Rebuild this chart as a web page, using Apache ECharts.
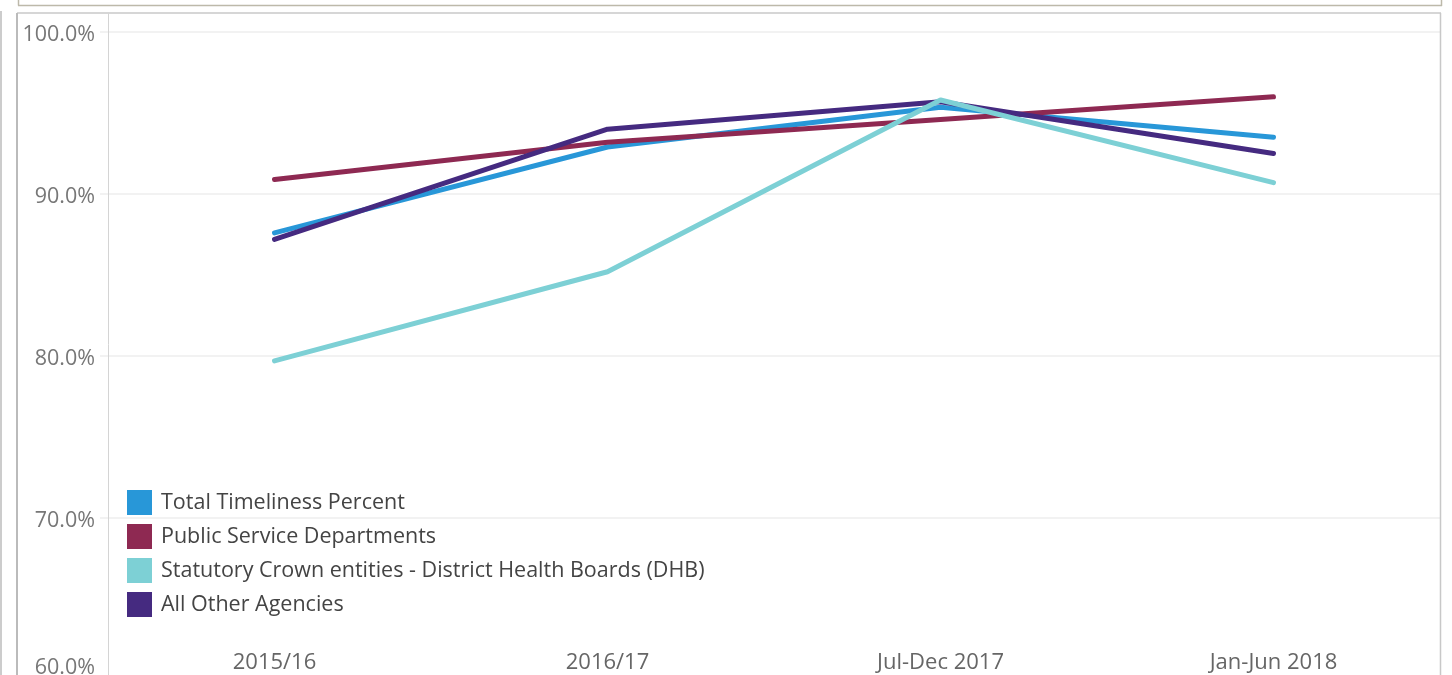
<!DOCTYPE html>
<html>
<head>
<meta charset="utf-8">
<script src="https://cdn.jsdelivr.net/npm/echarts@6/dist/echarts.min.js"></script>
<style>
html,body{margin:0;padding:0;background:#fff;}
#c{width:1452px;height:675px;}
</style>
</head>
<body>
<div id="c"></div>
<script>
var categories = ['2015/16', '2016/17', 'Jul-Dec 2017', 'Jan-Jun 2018'];
var seriesNames = ['Total Timeliness Percent', 'Public Service Departments', 'Statutory Crown entities - District Health Boards (DHB)', 'All Other Agencies'];
var totalTimeliness = [87.6, 92.9, 95.35, 93.5];
var publicService = [90.9, 93.2, 94.6, 96.0];
var dhb = [79.7, 85.2, 95.8, 90.7];
var allOther = [87.2, 94.0, 95.7, 92.5];
var colors = ['#2897d8', '#8e2952', '#7dd0d5', '#452a80'];
var yTicks = [60, 70, 80, 90, 100];

var chart = echarts.init(document.getElementById('c'));
var font = '"Open Sans", "Noto Sans", sans-serif';
function mk(name, data, color, z) {
  return {
    name: name, type: 'line', data: data, symbol: 'none', z: z,
    itemStyle: {color: color},
    lineStyle: {color: color, width: 5, cap: 'round', join: 'round'},
    emphasis: {disabled: true}
  };
}
chart.setOption({
  backgroundColor: '#ffffff',
  animation: false,
  grid: {left: 108, right: 12, top: 32, bottom: -5, containLabel: false, outerBoundsMode: 'none'},
  xAxis: {
    type: 'category', data: categories, boundaryGap: true,
    axisLine: {show: false}, axisTick: {show: false},
    axisLabel: {inside: true, margin: 6, fontSize: 22, color: '#666', fontFamily: font}
  },
  yAxis: {
    type: 'value', min: yTicks[0], max: yTicks[yTicks.length - 1], interval: 10,
    axisLine: {show: false},
    axisTick: {show: true, length: 8, lineStyle: {color: '#eeeeee', width: 1.5}},
    splitLine: {show: true, lineStyle: {color: '#eeeeee', width: 1.5}},
    axisLabel: {
      margin: 13, fontSize: 21.5, color: '#777', fontFamily: font,
      formatter: function (v) {
        var s = v.toFixed(1) + '%';
        return v === yTicks[0] ? '{b|' + s + '}' : '{a|' + s + '}';
      },
      rich: {
        a: {fontSize: 21.5, color: '#777', fontFamily: font, padding: [5, 0, 0, 0]},
        b: {fontSize: 21.5, color: '#777', fontFamily: font, padding: [5, 0, 30, 0]}
      }
    }
  },
  legend: {
    orient: 'vertical', left: 127, top: 490, padding: 0, itemWidth: 25, itemHeight: 25, itemGap: 9,
    icon: 'rect', selectedMode: false,
    textStyle: {fontSize: 21.5, color: '#444', fontFamily: font, padding: [4, 0, 0, 4]},
    data: seriesNames
  },
  series: [
    mk(seriesNames[0], totalTimeliness, colors[0], 2),
    mk(seriesNames[1], publicService, colors[1], 3),
    mk(seriesNames[3], allOther, colors[3], 4),
    mk(seriesNames[2], dhb, colors[2], 5)
  ],
  graphic: [
    {type: 'line', z: 100, shape: {x1: 18.5, y1: -2, x2: 18.5, y2: 5.5}, style: {stroke: '#bdb9aa', lineWidth: 1.5}},
    {type: 'line', z: 100, shape: {x1: 18, y1: 5.5, x2: 1442, y2: 5.5}, style: {stroke: '#bdb9aa', lineWidth: 1.5}},
    {type: 'line', z: 100, shape: {x1: 1441.5, y1: -2, x2: 1441.5, y2: 6}, style: {stroke: '#bdb9aa', lineWidth: 1.5}},
    {type: 'line', z: 100, shape: {x1: 1, y1: 11, x2: 1, y2: 680}, style: {stroke: '#cccccc', lineWidth: 2}},
    {type: 'line', z: 100, shape: {x1: 17, y1: 13, x2: 1441, y2: 13}, style: {stroke: '#c8c8c8', lineWidth: 1.5}},
    {type: 'line', z: 100, shape: {x1: 17, y1: 13, x2: 17, y2: 680}, style: {stroke: '#bbbbbb', lineWidth: 2}},
    {type: 'line', z: 100, shape: {x1: 1440.5, y1: 13, x2: 1440.5, y2: 680}, style: {stroke: '#c8c8c8', lineWidth: 1.5}},
    {type: 'line', z: 100, shape: {x1: 108.5, y1: 13, x2: 108.5, y2: 680}, style: {stroke: '#d4d4d4', lineWidth: 1}}
  ]
});
</script>
</body>
</html>
